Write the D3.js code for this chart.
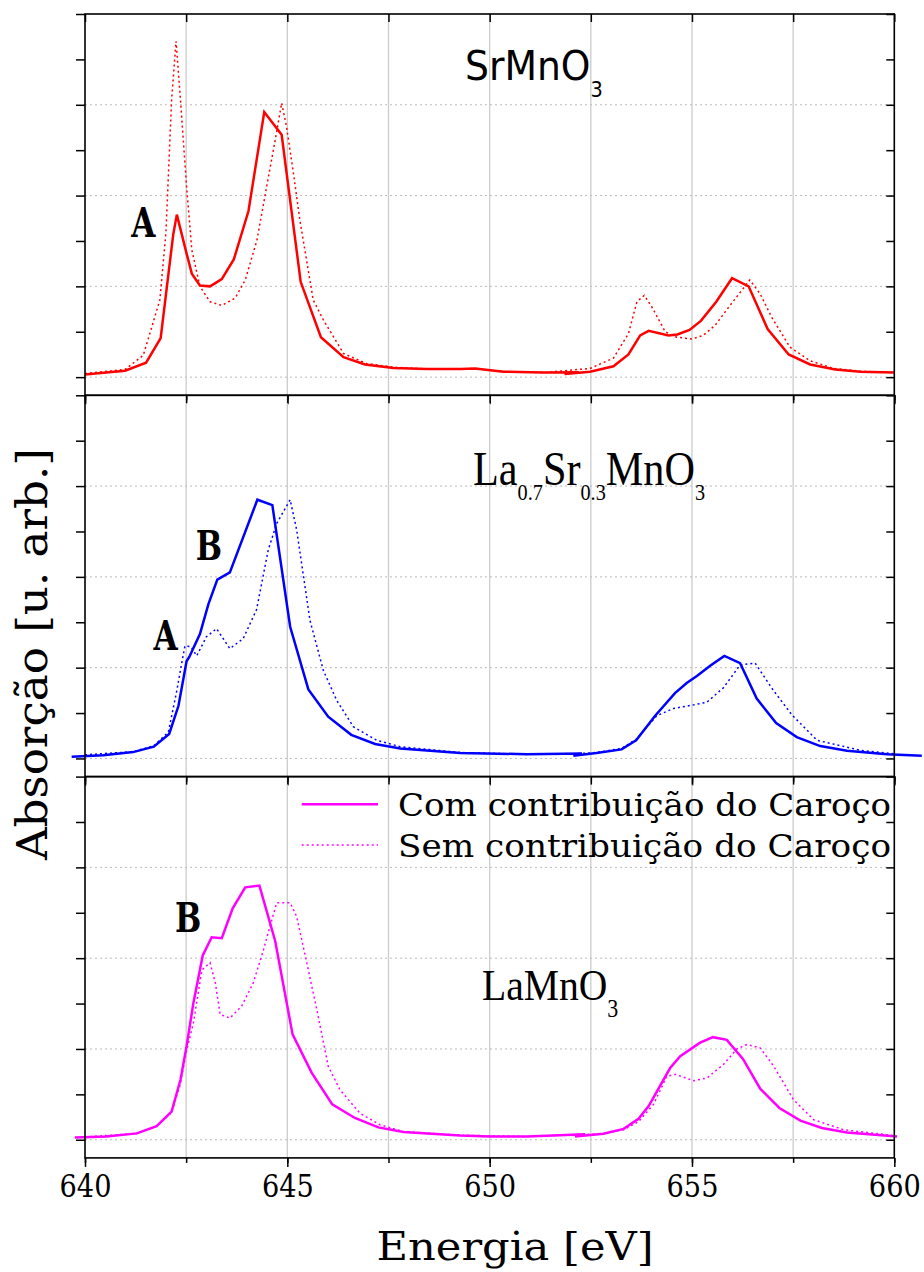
<!DOCTYPE html>
<html>
<head>
<meta charset="utf-8">
<script src="https://cdn.jsdelivr.net/npm/d3@7/dist/d3.min.js"></script>
<style>
  body { margin: 0; background: #fff; }
  svg { display: block; }
</style>
</head>
<body>
<div id="chart"></div>
<script>
// energy [eV], absorption [arb. u.]
const srSolid = [[640,0.03],[640.99,0.07],[641.51,0.16],[641.87,0.43],[642.18,1.57],[642.27,1.79],[642.5,1.38],[642.64,1.14],[642.84,1.01],[643.09,1.0],[643.38,1.08],[643.68,1.3],[644.04,1.83],[644.43,2.92],[644.86,2.67],[645.33,1.05],[645.83,0.44],[646.39,0.22],[646.92,0.14],[647.62,0.1],[648.45,0.09],[649.27,0.09],[649.64,0.095],[650.34,0.06],[651.33,0.05],[652.2,0.055],[651.85,0.035],[652.48,0.06],[653.06,0.12],[653.43,0.25],[653.72,0.46],[653.93,0.51],[654.42,0.46],[654.64,0.47],[654.94,0.52],[655.22,0.62],[655.6,0.83],[655.99,1.09],[656.4,1.0],[656.87,0.53],[657.39,0.25],[657.92,0.14],[658.54,0.085],[659.16,0.06],[660,0.05]];
const srDotted = [[640,0.04],[640.99,0.085],[641.44,0.24],[641.85,0.85],[642.0,1.59],[642.14,3.05],[642.25,3.7],[642.36,3.05],[642.51,2.1],[642.64,1.4],[642.84,1.0],[643.09,0.83],[643.38,0.79],[643.71,0.87],[643.96,1.07],[644.25,1.51],[644.49,2.1],[644.7,2.61],[644.86,3.02],[644.98,2.76],[645.15,2.25],[645.31,1.73],[645.64,0.85],[645.89,0.63],[646.39,0.26],[646.96,0.15],[647.62,0.11],[648.45,0.09],[649.27,0.09],[649.64,0.095],[650.34,0.06],[651.33,0.05],[652.07,0.08],[652.48,0.095],[653.06,0.21],[653.43,0.48],[653.64,0.83],[653.82,0.9],[654.0,0.78],[654.34,0.5],[654.62,0.44],[655.0,0.42],[655.28,0.46],[655.57,0.57],[655.94,0.79],[656.43,1.07],[656.68,0.92],[656.97,0.66],[657.42,0.33],[657.92,0.18],[658.5,0.095],[659.2,0.065],[660,0.05]];

const lsmoSolid = [[639.67,0.02],[640.45,0.036],[641.19,0.07],[641.7,0.13],[642.08,0.27],[642.31,0.58],[642.51,1.07],[642.58,1.12],[642.84,1.37],[643.05,1.7],[643.27,1.97],[643.58,2.05],[644.26,2.85],[644.63,2.79],[645.07,1.45],[645.52,0.76],[646.01,0.46],[646.58,0.26],[647.17,0.16],[647.79,0.11],[649.27,0.06],[650.92,0.047],[652.28,0.055],[652.07,0.03],[652.64,0.06],[653.26,0.1],[653.62,0.2],[654.09,0.47],[654.58,0.72],[654.87,0.83],[655.13,0.91],[655.45,1.02],[655.8,1.13],[656.19,1.05],[656.6,0.66],[657.08,0.39],[657.59,0.235],[658.17,0.136],[658.83,0.084],[659.82,0.047],[660.68,0.03]];
const lsmoDotted = [[640,0.04],[641.19,0.075],[641.7,0.14],[642.06,0.29],[642.27,0.75],[642.39,1.05],[642.47,1.24],[642.62,1.23],[642.76,1.13],[643.0,1.34],[643.25,1.43],[643.58,1.21],[643.91,1.32],[644.24,1.64],[644.53,2.3],[644.74,2.59],[645.07,2.85],[645.23,2.52],[645.56,1.52],[645.89,0.97],[646.22,0.64],[646.63,0.35],[647.21,0.2],[647.79,0.13],[649.27,0.065],[650.92,0.047],[652.07,0.05],[652.64,0.065],[653.26,0.11],[653.62,0.21],[654.13,0.47],[654.54,0.55],[655.04,0.59],[655.37,0.62],[655.78,0.78],[656.19,1.03],[656.56,1.05],[657.01,0.75],[657.47,0.48],[658.09,0.2],[659.16,0.09],[660,0.05]];

const lmoSolid = [[639.75,0.025],[640.53,0.036],[641.28,0.07],[641.77,0.15],[642.14,0.31],[642.36,0.66],[642.51,1.03],[642.68,1.51],[642.91,2.03],[643.13,2.23],[643.38,2.22],[643.65,2.55],[643.96,2.78],[644.31,2.8],[644.7,2.19],[645.13,1.16],[645.6,0.74],[646.11,0.39],[646.67,0.24],[647.25,0.136],[647.87,0.085],[649.27,0.047],[650.01,0.036],[650.92,0.036],[652.36,0.06],[652.11,0.036],[652.81,0.066],[653.31,0.12],[653.68,0.23],[653.93,0.37],[654.46,0.79],[654.71,0.92],[655.2,1.07],[655.52,1.13],[655.86,1.1],[656.26,0.89],[656.69,0.56],[657.16,0.35],[657.68,0.21],[658.21,0.13],[658.83,0.08],[660.07,0.036]];
const lmoDotted = [[640,0.03],[641.28,0.07],[641.77,0.15],[642.14,0.3],[642.36,0.62],[642.51,0.98],[642.68,1.29],[642.89,1.87],[643.09,1.95],[643.22,1.73],[643.34,1.38],[643.58,1.34],[643.87,1.47],[644.16,1.73],[644.41,2.09],[644.57,2.35],[644.74,2.61],[645.07,2.61],[645.23,2.46],[645.48,1.95],[645.73,1.43],[646.01,0.81],[646.3,0.55],[646.8,0.29],[647.29,0.165],[647.87,0.09],[649.27,0.05],[650.92,0.036],[652.36,0.06],[652.81,0.066],[653.31,0.11],[653.68,0.2],[654.05,0.39],[654.38,0.7],[654.59,0.72],[655.04,0.65],[655.37,0.68],[655.78,0.83],[656.11,1.0],[656.36,1.05],[656.69,1.01],[657.02,0.81],[657.51,0.44],[658.01,0.22],[658.75,0.11],[660,0.045]];

const xMajor = [640, 645, 650, 655, 660];
const xMinor = [640, 642.5, 645, 647.5, 650, 652.5, 655, 657.5, 660];
const yTicks = [0, 0.5, 1, 1.5, 2, 2.5, 3, 3.5, 4];
const yGrid = [0, 1, 2, 3];
const legendLabels = ["Com contribuição do Caroço", "Sem contribuição do Caroço"];

const W = 924, H = 1272;
const padL = 85, padR = 894.3, padT = 14, panelH = 381.3;
const slab = "'DejaVu Serif', serif";
const times = "'Liberation Serif', 'DejaVu Serif', serif";

const panels = [
    {solid: srSolid, dotted: srDotted, color: "#ff0000",
     title: [["SrMnO",0],["3",1]], titleAt: [649.39, 3.27], titleFont: "'DejaVu Sans', sans-serif", titleSize: 41, subSize: 21, subShift: 17, titleScale: 0.92,
     marks: [["A", 641.44, 1.54]]},
    {solid: lsmoSolid, dotted: lsmoDotted, color: "#0000ff",
     title: [["La",0],["0.7",1],["Sr",0],["0.3",1],["MnO",0],["3",1]], titleAt: [649.59, 3.01], titleFont: times, titleSize: 48, subSize: 23, subShift: 15, titleScale: 0.88,
     marks: [["B", 643.06, 2.19], ["A", 641.99, 1.19]]},
    {solid: lmoSolid, dotted: lmoDotted, color: "#ff00ff",
     title: [["LaMnO",0],["3",1]], titleAt: [649.81, 1.54], titleFont: times, titleSize: 45, subSize: 25, subShift: 17, titleScale: 0.88,
     marks: [["B", 642.55, 2.29]]}
];

const svg = d3.select("#chart").append("svg")
    .attr("width", W)
    .attr("height", H);

const x = d3.scaleLinear().domain([640, 660]).range([padL, padR]);

panels.forEach((p, i) => {
    const y0 = padT + i * panelH;
    const y = d3.scaleLinear().domain([-0.2, 4.0]).range([y0 + panelH, y0]);
    const g = svg.append("g");

    // grid
    g.selectAll(".vgrid")
        .data(xMinor.slice(1, -1))
        .enter().append("line")
        .attr("x1", d => x(d)).attr("x2", d => x(d))
        .attr("y1", y0).attr("y2", y0 + panelH)
        .attr("stroke", "#cccccc").attr("stroke-width", 1.3);
    g.selectAll(".hgrid")
        .data(yGrid)
        .enter().append("line")
        .attr("x1", padL).attr("x2", padR)
        .attr("y1", d => y(d)).attr("y2", d => y(d))
        .attr("stroke", "#bbbbbb").attr("stroke-width", 1)
        .attr("stroke-dasharray", "2,3");

    const line = d3.line().x(d => x(d[0])).y(d => y(d[1]));

    g.append("path")
        .datum(p.dotted)
        .attr("d", line)
        .attr("fill", "none")
        .attr("stroke", p.color)
        .attr("stroke-width", 1.5)
        .attr("stroke-dasharray", "2,3");
    g.append("path")
        .datum(p.solid)
        .attr("d", line)
        .attr("fill", "none")
        .attr("stroke", p.color)
        .attr("stroke-width", 2.5);

    // frame
    g.append("rect")
        .attr("x", padL).attr("y", y0)
        .attr("width", padR - padL).attr("height", panelH)
        .attr("fill", "none").attr("stroke", "#000").attr("stroke-width", 1.6);

    // axes
    const last = i === panels.length - 1;
    g.append("g")
        .attr("transform", "translate(0," + (y0 + panelH) + ")")
        .call(d3.axisBottom(x).tickValues(xMinor).tickSize(5).tickFormat(""));
    const major = g.append("g")
        .attr("transform", "translate(0," + (y0 + panelH) + ")")
        .call(d3.axisBottom(x).tickValues(xMajor).tickSize(9).tickPadding(7.5)
              .tickFormat(last ? d3.format("d") : ""));
    major.selectAll("text")
        .attr("font-family", slab)
        .attr("font-size", 32)
        .attr("transform", "scale(0.85,1)")
        .attr("fill", "#000");
    g.append("g")
        .attr("transform", "translate(0," + y0 + ")")
        .call(d3.axisTop(x).tickValues(xMinor).tickSize(-8).tickFormat(""));
    g.append("g")
        .attr("transform", "translate(" + padL + ",0)")
        .call(d3.axisLeft(y).tickValues(yTicks).tickSize(9).tickFormat(""));
    g.append("g")
        .attr("transform", "translate(" + padR + ",0)")
        .call(d3.axisRight(y).tickValues(yTicks).tickSize(-8).tickFormat(""));
    g.selectAll(".domain").remove();
    g.selectAll(".tick line").attr("stroke", "#000").attr("stroke-width", 1.5);

    // compound name
    const t = g.append("text")
        .attr("transform", "translate(" + x(p.titleAt[0]) + "," + y(p.titleAt[1]) + ") scale(" + p.titleScale + ",1)")
        .attr("font-family", p.titleFont)
        .attr("font-size", p.titleSize)
        .attr("fill", "#000");
    let shifted = false;
    p.title.forEach(([s, sub]) => {
        const span = t.append("tspan").text(s);
        if (sub && !shifted) { span.attr("dy", p.subShift).attr("font-size", p.subSize); shifted = true; }
        else if (sub) { span.attr("font-size", p.subSize); }
        else if (shifted) { span.attr("dy", -p.subShift); shifted = false; }
    });

    // peak letters
    p.marks.forEach(([s, e, v]) => {
        g.append("text")
            .attr("transform", "translate(" + x(e) + "," + y(v) + ") scale(0.76,1)")
            .attr("text-anchor", "middle")
            .attr("font-family", slab)
            .attr("font-weight", "bold")
            .attr("font-size", 41)
            .attr("fill", "#000")
            .text(s);
    });

    if (last) {
        const legend = g.append("g");
        legendLabels.forEach((lab, k) => {
            const ly = 804.3 + k * 40.7;
            legend.append("line")
                .attr("x1", 301.7).attr("x2", 378)
                .attr("y1", ly).attr("y2", ly)
                .attr("stroke", p.color)
                .attr("stroke-width", k ? 1.5 : 2.5)
                .attr("stroke-dasharray", k ? "2,3" : null);
            legend.append("text")
                .attr("x", 398).attr("y", ly + 12)
                .attr("font-family", slab)
                .attr("font-size", 31)
                .attr("textLength", 493)
                .attr("lengthAdjust", "spacingAndGlyphs")
                .attr("fill", "#000")
                .text(lab);
        });
    }
});

svg.append("text")
    .attr("x", 515).attr("y", 1260)
    .attr("text-anchor", "middle")
    .attr("font-family", slab)
    .attr("font-size", 39)
    .attr("textLength", 277)
    .attr("lengthAdjust", "spacingAndGlyphs")
    .attr("fill", "#000")
    .text("Energia [eV]");

svg.append("text")
    .attr("transform", "translate(47,654) rotate(-90)")
    .attr("text-anchor", "middle")
    .attr("font-family", slab)
    .attr("font-size", 43.5)
    .attr("textLength", 412)
    .attr("lengthAdjust", "spacingAndGlyphs")
    .attr("fill", "#000")
    .text("Absorção [u. arb.]");
</script>
</body>
</html>
